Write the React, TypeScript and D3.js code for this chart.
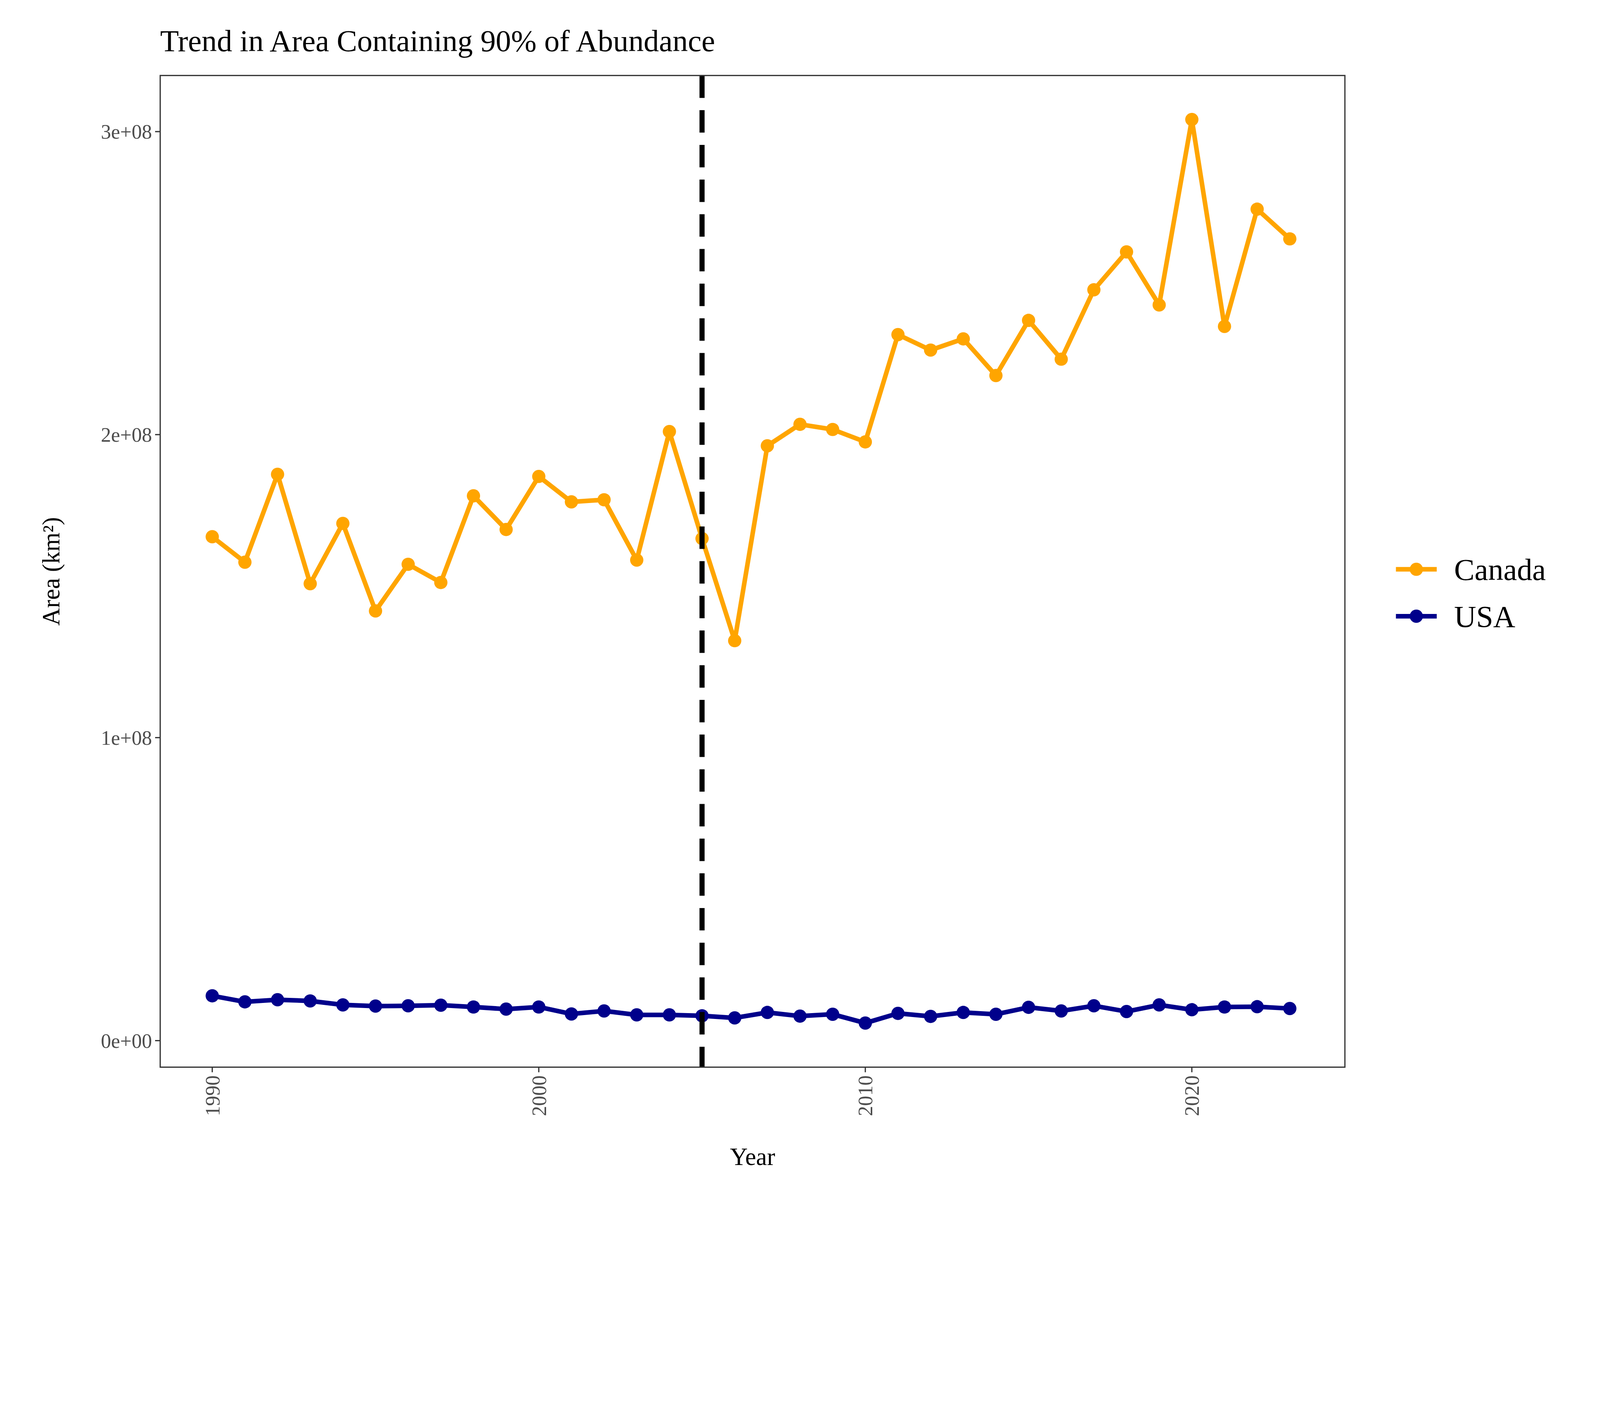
import * as d3 from 'd3';
import React from 'react';

const years = d3.range(1990, 2024);
const canada = [1.663, 1.579, 1.869, 1.508, 1.707, 1.418, 1.572, 1.512, 1.798, 1.687, 1.862, 1.778, 1.785, 1.586, 2.01, 1.657, 1.32, 1.963, 2.034, 2.017, 1.976, 2.33, 2.279, 2.316, 2.195, 2.377, 2.249, 2.478, 2.603, 2.428, 3.04, 2.357, 2.744, 2.646].map(v => v * 1e8);
const usa = [0.148, 0.128, 0.135, 0.131, 0.118, 0.114, 0.115, 0.117, 0.111, 0.104, 0.111, 0.088, 0.098, 0.085, 0.085, 0.082, 0.075, 0.093, 0.081, 0.087, 0.058, 0.09, 0.08, 0.093, 0.087, 0.11, 0.098, 0.115, 0.096, 0.118, 0.102, 0.111, 0.112, 0.106].map(v => v * 1e8);
const yTicks = [0, 1e8, 2e8, 3e8];
const yTickLabels = ['0e+00', '1e+08', '2e+08', '3e+08'];
const xTicks = [1990, 2000, 2010, 2020];
const series = [
    { name: 'Canada', values: canada, colour: '#FFA500' },
    { name: 'USA', values: usa, colour: '#00008B' },
];
const breakYear = 2005;

const font = '"Liberation Serif", "Times New Roman", serif';

export default function App() {
    const panel = { left: 157, right: 1318, top: 74, bottom: 1046 };
    const x = d3.scaleLinear().domain([1990, 2020]).range([208, 1168]);
    const y = d3.scaleLinear().domain([0, 3e8]).range([1020, 129]);
    const line = d3.line<number>().x((_, i) => x(years[i])).y(d => y(d));

    return (
        <svg width="100vw" height="100vh" viewBox="0 0 1568 1176" preserveAspectRatio="xMinYMin meet"
            style={{ position: 'absolute', left: 0, top: 0, background: 'white' }} fontFamily={font}>
            <rect x={panel.left} y={panel.top} width={panel.right - panel.left} height={panel.bottom - panel.top}
                fill="white" />
            {series.map(s => (
                <g key={s.name}>
                    <path d={line(s.values) || ''} fill="none" stroke={s.colour} strokeWidth={4.5} strokeLinejoin="round" />
                    {s.values.map((v, i) => <circle key={i} cx={x(years[i])} cy={y(v)} r={6.5} fill={s.colour} />)}
                </g>
            ))}
            <line x1={x(breakYear)} x2={x(breakYear)} y1={panel.top} y2={panel.bottom}
                stroke="black" strokeWidth={5} strokeDasharray="22,12" />
            <rect x={panel.left} y={panel.top} width={panel.right - panel.left} height={panel.bottom - panel.top}
                fill="none" stroke="#333" strokeWidth={1.2} />
            {yTicks.map((t, i) => (
                <g key={t}>
                    <line x1={panel.left - 5} x2={panel.left} y1={y(t)} y2={y(t)} stroke="#333" strokeWidth={1.2} />
                    <text x={panel.left - 8} y={y(t)} dy="0.35em" textAnchor="end" fontSize={20} fill="#4d4d4d">{yTickLabels[i]}</text>
                </g>
            ))}
            {xTicks.map(t => (
                <g key={t}>
                    <line x1={x(t)} x2={x(t)} y1={panel.bottom} y2={panel.bottom + 5} stroke="#333" strokeWidth={1.2} />
                    <text transform={`translate(${x(t)},${panel.bottom + 8}) rotate(-90)`} dy="0.35em"
                        textAnchor="end" fontSize={20} fill="#4d4d4d">{t}</text>
                </g>
            ))}
            <text x={(panel.left + panel.right) / 2} y={1142} textAnchor="middle" fontSize={24}>Year</text>
            <text transform={`translate(58,${(panel.top + panel.bottom) / 2}) rotate(-90)`} textAnchor="middle" fontSize={24}>Area (km²)</text>
            <text x={157} y={50} fontSize={30}>Trend in Area Containing 90% of Abundance</text>
            {series.map((s, i) => {
                const cy = 558 + i * 46;
                return (
                    <g key={s.name}>
                        <line x1={1368} x2={1408} y1={cy} y2={cy} stroke={s.colour} strokeWidth={4.5} />
                        <circle cx={1388} cy={cy} r={6.5} fill={s.colour} />
                        <text x={1425} y={cy} dy="0.35em" fontSize={30}>{s.name}</text>
                    </g>
                );
            })}
        </svg>
    );
}
